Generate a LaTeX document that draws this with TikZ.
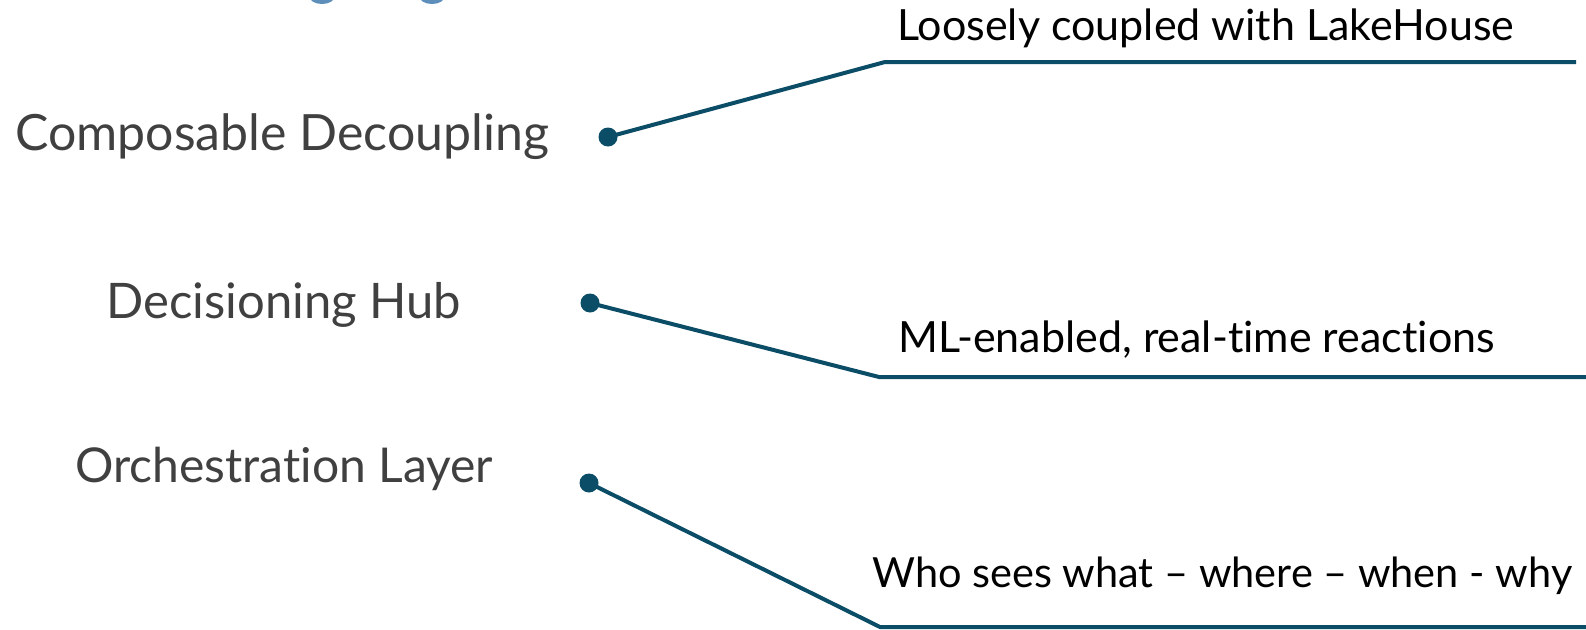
\documentclass[tikz,border=0pt]{standalone}
\usepackage{fontspec}
\setmainfont{Lato}[RawFeature={-liga}]
\definecolor{teal}{HTML}{0B4D66}
\definecolor{leftgray}{HTML}{404040}
\definecolor{titleblue}{HTML}{5E8FBA}
\begin{document}
\begin{tikzpicture}[x=1pt,y=-1pt,
  lefttext/.style={anchor=base west,inner sep=0pt,text=leftgray,font=\fontsize{49}{55}\selectfont},
  righttext/.style={anchor=base west,inner sep=0pt,text=black,font=\fontsize{43}{49}\selectfont},
  dotnode/.style={circle,fill=teal,inner sep=0pt,minimum size=19pt},
  conn/.style={draw=teal,line width=4pt}]
\useasboundingbox (0,0) rectangle (1586,629);
\fill[white] (0,0) rectangle (1586,629);
% partial title descenders
\fill[titleblue] (322,-4) ellipse [x radius=13, y radius=8];
\fill[titleblue] (432,-4) ellipse [x radius=13, y radius=8];
% left labels
\node[lefttext,font=\fontsize{50}{56}\selectfont] (l1) at (15,150) {Composable Decoupling};
\node[lefttext] (l2) at (106,318) {Decisioning Hub};
\node[lefttext,font=\fontsize{48}{54}\selectfont] (l3) at (75,482) {Orchestration Layer};
% right labels
\node[righttext] (r1) at (897,40) {Loosely coupled with LakeHouse};
\node[righttext] (r2) at (898,352) {ML-enabled, real-time reactions};
\node[righttext,font=\fontsize{41.5}{47}\selectfont] (r3) at (872,587) {Who sees what – where – when - why};
% dots
\node[dotnode] (d1) at (608,137) {};
\node[dotnode] (d2) at (590,303) {};
\node[dotnode] (d3) at (589,483) {};
% corners and ends
\coordinate (c1) at (885,62);
\coordinate (e1) at (1576,62);
\coordinate (c2) at (879,377);
\coordinate (e2) at (1590,377);
\coordinate (c3) at (880,627);
\coordinate (e3) at (1590,627);
\draw[conn] (d1.center) -- (c1) -- (e1);
\draw[conn] (d2.center) -- (c2) -- (e2);
\draw[conn] (d3.center) -- (c3) -- (e3);
\end{tikzpicture}
\end{document}
